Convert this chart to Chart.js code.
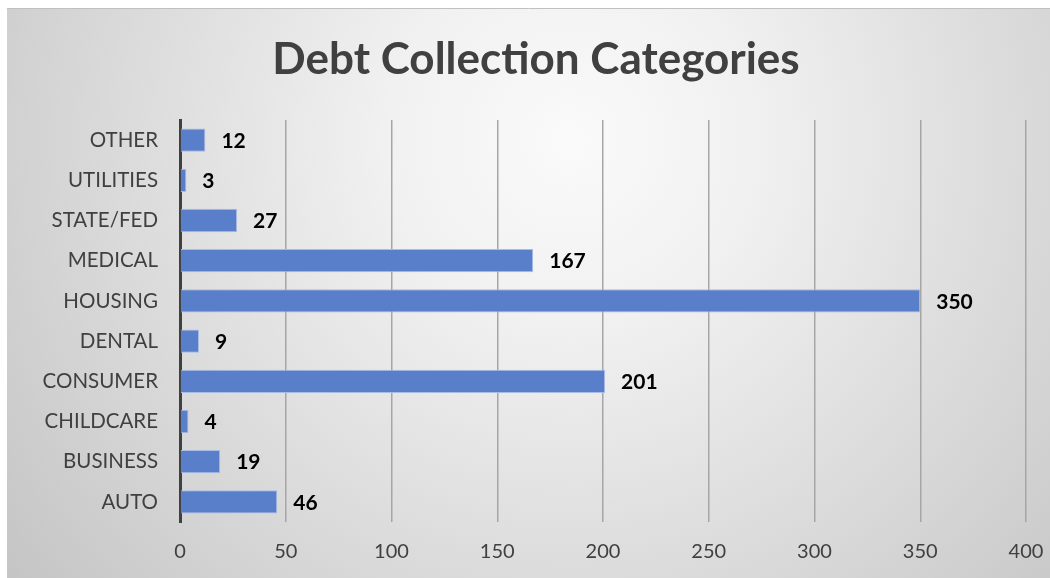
<!DOCTYPE html>
<html>
<head>
<meta charset="utf-8">
<script src="https://cdn.jsdelivr.net/npm/chart.js@4"></script>
<style>
html,body{margin:0;padding:0;background:#fff;}
#wrap{width:1050px;height:578px;position:relative;}
</style>
</head>
<body>
<div id="wrap"><canvas id="c" width="1050" height="578"></canvas></div>
<script>
const categories = ["OTHER","UTILITIES","STATE/FED","MEDICAL","HOUSING","DENTAL","CONSUMER","CHILDCARE","BUSINESS","AUTO"];
const counts = [12,3,27,167,350,9,201,4,19,46];
const xTicks = [0,50,100,150,200,250,300,350,400];
const titleText = "Debt Collection Categories";

const bgPlugin = {
  id: 'bg',
  beforeDraw(chart) {
    const ctx = chart.ctx;
    ctx.save();
    ctx.fillStyle = '#ffffff';
    ctx.fillRect(0, 0, chart.width, chart.height);
    const g = ctx.createRadialGradient(570, 140, 0, 570, 140, 720);
    g.addColorStop(0, '#fafafa');
    g.addColorStop(0.25, '#f1f1f1');
    g.addColorStop(1, '#c4c4c4');
    ctx.fillStyle = g;
    ctx.fillRect(7, 8, chart.width - 7, chart.height - 8);
    ctx.strokeStyle = '#c0c0c0';
    ctx.lineWidth = 1;
    ctx.beginPath();
    ctx.moveTo(7, 8.5); ctx.lineTo(chart.width, 8.5);
    ctx.stroke();
    ctx.font = 'bold 44px Lato';
    ctx.fillStyle = '#404040';
    ctx.textAlign = 'center';
    ctx.textBaseline = 'middle';
    ctx.fillText(titleText, 536, 60);
    ctx.restore();
  }
};

const labelPlugin = {
  id: 'vals',
  afterDatasetsDraw(chart) {
    const ctx = chart.ctx;
    const meta = chart.getDatasetMeta(0);
    ctx.save();
    ctx.font = 'bold 21px Lato';
    ctx.fillStyle = '#000000';
    ctx.textAlign = 'left';
    ctx.textBaseline = 'middle';
    meta.data.forEach((bar, i) => {
      ctx.fillText(String(counts[i]), bar.x + 16, bar.y + 1);
    });
    ctx.restore();
  }
};

new Chart(document.getElementById('c'), {
  type: 'bar',
  data: {
    labels: categories,
    datasets: [{
      data: counts,
      backgroundColor: '#5a7fca',
      borderColor: '#a8bce6',
      borderWidth: 1,
      categoryPercentage: 1.0,
      barPercentage: 0.58
    }]
  },
  options: {
    indexAxis: 'y',
    responsive: false,
    animation: false,
    layout: { padding: { left: 0, right: 24, top: 120, bottom: 6 } },
    plugins: {
      legend: { display: false },
      tooltip: { enabled: false },
      title: { display: false }
    },
    scales: {
      x: {
        min: 0, max: 400,
        afterBuildTicks(scale) { scale.ticks = xTicks.map(v => ({ value: v })); },
        ticks: { color: '#404040', font: { family: 'Lato', size: 20 }, padding: 18 },
        grid: { color: '#a6a6a6', lineWidth: 1.5, drawTicks: false },
        border: { display: false },
        afterFit(scale) { scale.height = 50; scale.paddingLeft = 0; scale.paddingRight = 0; }
      },
      y: {
        ticks: { color: '#404040', font: { family: 'Lato', size: 20.5 }, padding: 22, autoSkip: false },
        grid: { display: false, drawTicks: false },
        border: { display: true, color: '#404040', width: 3 },
        afterFit(scale) { scale.width = 180; scale.paddingTop = 0; scale.paddingBottom = 0; }
      }
    }
  },
  plugins: [bgPlugin, labelPlugin]
});
</script>
</body>
</html>
